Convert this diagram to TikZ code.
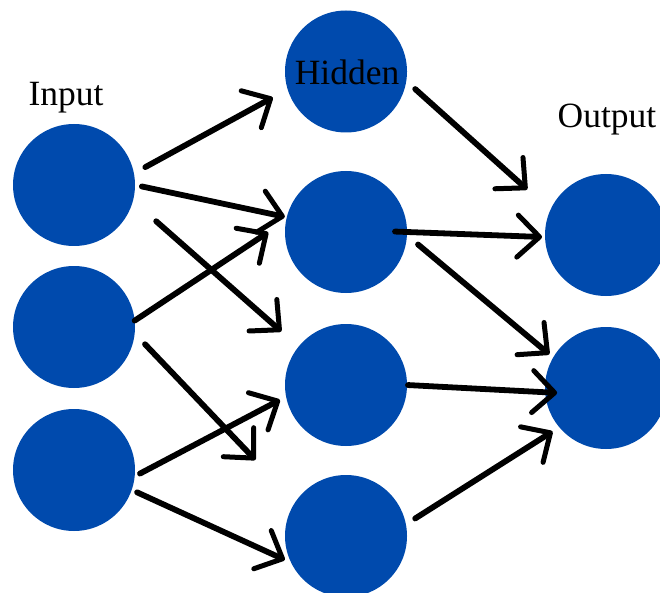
\documentclass[tikz,border=0pt]{standalone}
\usepackage{fontspec}
\setmainfont{Liberation Serif}
\usetikzlibrary{arrows.meta}
\definecolor{nodeblue}{RGB}{0,74,173}
\begin{document}
\begin{tikzpicture}[x=1pt,y=-1pt,
  neuron/.style={circle,fill=nodeblue,draw=none,minimum size=122pt,inner sep=0pt,outer sep=0pt},
  layerlabel/.style={font=\fontsize{35.5}{40}\selectfont,anchor=base,inner sep=0pt},
  link/.style={line width=5.8pt,line cap=round,
    -{Straight Barb[length=22pt,width=42pt,line width=5pt,round]}}]
\useasboundingbox (0,0) rectangle (660,593);
\clip (0,0) rectangle (660,593);

% input layer
\node[neuron] (i1) at (74,185) {};
\node[neuron] (i2) at (74,327) {};
\node[neuron] (i3) at (74,470) {};
% hidden layer
\node[neuron] (h1) at (346,71.5) {};
\node[neuron] (h2) at (346,232) {};
\node[neuron] (h3) at (346,385) {};
\node[neuron] (h4) at (346,536) {};
% output layer
\node[neuron] (o1) at (606,235) {};
\node[neuron] (o2) at (606,388) {};

% layer titles
\node[layerlabel] (tin) at (66,106) {Input};
\node[layerlabel] (thid) at (347,85) {Hidden};
\node[layerlabel] (tout) at (607,128) {Output};

% input -> hidden
\draw[link,shorten <=13pt,shorten >=17pt] (i1.11.3) -- (h1.197.7);
\draw[link,shorten <=7pt,shorten >=2pt] (i1.-0.5) -- (h2.166.1);
\draw[link,shorten <=31pt,shorten >=23pt] (i1.-15.7) -- (h3.141.6);
\draw[link,shorten <=0pt,shorten >=21.5pt] (i2.6.4) -- (h2.169.8);
\draw[link,shorten <=15pt,shorten >=58pt] (i2.-6.7) -- (h4.146.2);
\draw[link,shorten <=6pt,shorten >=7pt] (i3.-6.4) -- (h3.191.1);
\draw[link,shorten <=6pt,shorten >=7pt] (i3.-19.7) -- (h4.206.1);

% hidden -> output
\draw[link,shorten <=12pt,shorten >=31pt] (h1.-9.9) -- (o1.156.4);
\draw[link,shorten <=-12pt,shorten >=3pt] (h2.0.4) -- (o1.182.9);
\draw[link,shorten <=14.5pt,shorten >=5pt] (h2.-3.5) -- (o2.150.7);
\draw[link,shorten <=1pt,shorten >=-12pt] (h3.-0.9) -- (o2.184.1);
\draw[link,shorten <=11pt,shorten >=8pt] (h4.11.5) -- (o2.220.7);
\end{tikzpicture}
\end{document}
